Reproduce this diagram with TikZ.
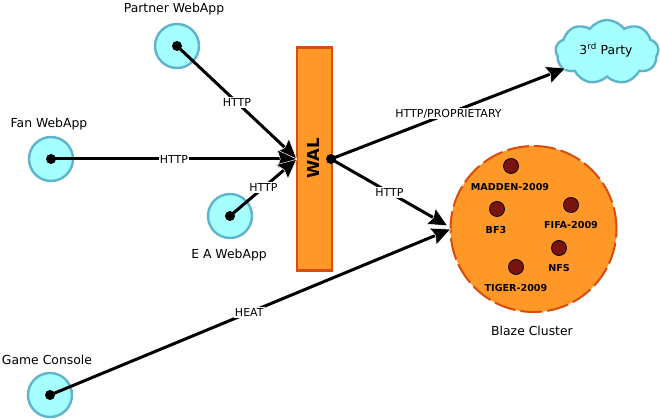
\documentclass[tikz,border=0pt]{standalone}
\usepackage{fontspec}
\setmainfont{DejaVu Sans}
\usetikzlibrary{arrows.meta,shapes.symbols}
\definecolor{cyanfill}{HTML}{A6FFFF}
\definecolor{cyanline}{HTML}{5FB3CB}
\definecolor{orangefill}{HTML}{FF9826}
\definecolor{orangeline}{HTML}{D84C10}
\definecolor{darkred}{HTML}{7A1410}
\tikzset{
  x=1pt,y=-1pt,
  client/.style={circle,draw=cyanline,fill=cyanfill,line width=2.4pt,minimum size=44pt,inner sep=0pt},
  startdot/.style={circle,fill=black,minimum size=10pt,inner sep=0pt},
  gamedot/.style={circle,draw=black,line width=0.8pt,fill=darkred,minimum size=15pt,inner sep=0pt},
  conn/.style={line width=3pt,draw=black,-{Stealth[length=20pt,width=19pt,inset=3pt,color=white,fill=black,line width=0.5pt]}},
  lab/.style={fill=white,inner sep=1pt,font=\fontsize{11pt}{13pt}\selectfont},
  nametext/.style={inner sep=0pt,font=\fontsize{12.4pt}{14pt}\selectfont},
  gname/.style={inner sep=0pt,font=\fontsize{9.6pt}{11pt}\bfseries\selectfont},
}
\begin{document}
\begin{tikzpicture}
\useasboundingbox (0,0) rectangle (660,419);
% clients
\node[client] (partner) at (177,46) {};
\node[client] (fan) at (51,159) {};
\node[client] (ea) at (230,216) {};
\node[client] (console) at (50,395) {};
\node[nametext] (partnerlab) at (174,9) {Partner WebApp};
\node[nametext] (fanlab) at (49,124) {Fan WebApp};
\node[nametext] (ealab) at (229,255) {E A WebApp};
\node[nametext] (consolelab) at (47,360) {Game Console};
% WAL
\node[draw=orangeline,fill=orangefill,line width=2.6pt,minimum width=35pt,minimum height=223pt,inner sep=0pt] (wal) at (314.5,159) {};
\node[rotate=90,inner sep=0pt,font=\fontsize{16.5pt}{20pt}\bfseries\selectfont] (wallab) at (313.5,158.5) {WAL};
% cloud
\node[cloud,cloud puffs=9,cloud puff arc=110,aspect=1.7,draw=cyanline,fill=cyanfill,line width=2.4pt,minimum width=103pt,minimum height=64pt,inner sep=0pt] (cloud) at (607,52) {};
\node[inner sep=0pt,font=\fontsize{12.4pt}{14pt}\selectfont] (cloudlab) at (606,50) {3\textsuperscript{rd} Party};
% cluster
\node[circle,fill=orangefill,draw=orangeline,line width=2pt,dash pattern=on 22pt off 5pt,minimum size=166pt,inner sep=0pt] (cluster) at (533.5,229) {};
\node[gamedot] (g1) at (511,166) {};
\node[gamedot] (g2) at (497,209) {};
\node[gamedot] (g3) at (571,205) {};
\node[gamedot] (g4) at (559,248) {};
\node[gamedot] (g5) at (516,267) {};
\node[gname] (g1lab) at (510,187) {MADDEN-2009};
\node[gname] (g2lab) at (496,230) {BF3};
\node[gname] (g3lab) at (571,225) {FIFA-2009};
\node[gname] (g4lab) at (559,268) {NFS};
\node[gname] (g5lab) at (516,288) {TIGER-2009};
\node[nametext] (clusterlab) at (532,331) {Blaze Cluster};
% anchors
\coordinate (walin) at (297,159);
\coordinate (cloudin) at (566,68);
\coordinate (clin1) at (448,226);
\coordinate (clin2) at (451,229);
\node[startdot] (walout) at (331,159) {};
\node[startdot] (d1) at (177,46) {};
\node[startdot] (d2) at (51,159) {};
\node[startdot] (d3) at (230,216) {};
\node[startdot] (d4) at (50,395) {};
% connectors
\draw[conn] (d1.center) -- (walin) node[lab,pos=0.5] (l1) {HTTP};
\draw[conn] (d2.center) -- (walin) node[lab,pos=0.5] (l2) {HTTP};
\draw[conn] (d3.center) -- (walin) node[lab,pos=0.5] (l3) {HTTP};
\draw[conn] (d4.center) -- (clin2) node[lab,pos=0.497] (l4) {HEAT};
\draw[conn] (walout.center) -- (cloudin) node[lab,pos=0.5] (l5) {HTTP/PROPRIETARY};
\draw[conn] (walout.center) -- (clin1) node[lab,pos=0.5] (l6) {HTTP};
\end{tikzpicture}
\end{document}
